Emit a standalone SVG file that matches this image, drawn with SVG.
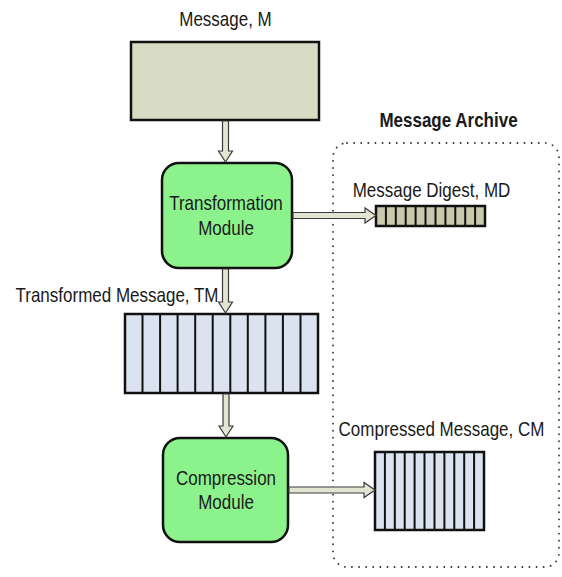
<svg xmlns="http://www.w3.org/2000/svg" width="562" height="577" viewBox="0 0 562 577">
  <style>
    .lbl { font-family: "Liberation Sans", Arial, sans-serif; font-size: 17px; fill: #1a1a1a; text-anchor: middle; }
    .bold { font-weight: bold; }
    .mod { fill: #8cf28c; stroke: #111; stroke-width: 2.5; }
    .box { stroke: #111; stroke-width: 2.5; }
    .cell { stroke: #111; stroke-width: 2; }
    .arrow { fill: #e4e4d2; stroke: #3a3a3a; stroke-width: 1.2; stroke-linejoin: miter; }
    .archive { fill: none; stroke: #333; stroke-width: 1.8; stroke-dasharray: 0.1 7; stroke-linecap: round; }
  </style>
  <rect width="562" height="577" fill="#ffffff"/>

  <!-- archive boundary -->
  <g id="archive">
    <rect class="archive" x="333" y="143" width="226" height="424" rx="14"/>
    <text class="lbl bold" transform="translate(448.5,127) scale(1,1.2)">Message Archive</text>
  </g>

  <!-- input message -->
  <g id="message">
    <text class="lbl" transform="translate(225.5,26) scale(1,1.2)">Message, M</text>
    <rect class="box" x="131" y="42" width="188" height="78" fill="#d9dcc5"/>
  </g>

  <!-- transformation module -->
  <g id="transformation">
    <rect class="mod" x="162" y="163" width="130" height="105" rx="17"/>
    <text class="lbl" transform="translate(226,210) scale(1,1.2)">Transformation</text>
    <text class="lbl" transform="translate(226,235) scale(1,1.2)">Module</text>
  </g>

  <!-- message digest -->
  <g id="digest">
    <text class="lbl" transform="translate(431.5,197) scale(1,1.2)">Message Digest, MD</text>
    <rect class="box" x="376" y="206" width="109" height="20" fill="#c9caad"/>
    <path class="cell" d="M385.9 206v20M395.8 206v20M405.7 206v20M415.6 206v20M425.5 206v20M435.5 206v20M445.4 206v20M455.3 206v20M465.2 206v20M475.1 206v20"/>
  </g>

  <!-- transformed message -->
  <g id="transformed">
    <text class="lbl" transform="translate(117,302) scale(1,1.2)">Transformed Message, TM</text>
    <rect class="box" x="125" y="314" width="193" height="79" fill="#dce3f0"/>
    <path class="cell" d="M142.5 314v79M160.1 314v79M177.6 314v79M195.2 314v79M212.7 314v79M230.3 314v79M247.8 314v79M265.4 314v79M282.9 314v79M300.5 314v79"/>
  </g>

  <!-- compression module -->
  <g id="compression">
    <rect class="mod" x="163" y="438" width="125" height="104" rx="17"/>
    <text class="lbl" transform="translate(226,485) scale(1,1.2)">Compression</text>
    <text class="lbl" transform="translate(226,509) scale(1,1.2)">Module</text>
  </g>

  <!-- compressed message -->
  <g id="compressed">
    <text class="lbl" transform="translate(441.5,436) scale(1,1.2)">Compressed Message, CM</text>
    <rect class="box" x="375" y="452" width="109" height="78" fill="#dce3f0"/>
    <path class="cell" d="M384.9 452v78M394.8 452v78M404.7 452v78M414.6 452v78M424.5 452v78M434.5 452v78M444.4 452v78M454.3 452v78M464.2 452v78M474.1 452v78"/>
  </g>

  <!-- connectors: hollow block arrows -->
  <g id="connectors">
    <polygon class="arrow" points="222.5,121 228.5,121 228.5,151 232.5,151 225.5,162 218.5,151 222.5,151"/>
    <polygon class="arrow" points="222.5,269 228.5,269 228.5,302 232.5,302 225.5,313 218.5,302 222.5,302"/>
    <polygon class="arrow" points="223,394 229,394 229,426 233,426 226,437 219,426 223,426"/>
    <polygon class="arrow" points="293,212.5 365,212.5 365,208 376,215.5 365,223 365,218.5 293,218.5"/>
    <polygon class="arrow" points="289,487 364,487 364,482.5 375,490 364,497.5 364,493 289,493"/>
  </g>
</svg>
